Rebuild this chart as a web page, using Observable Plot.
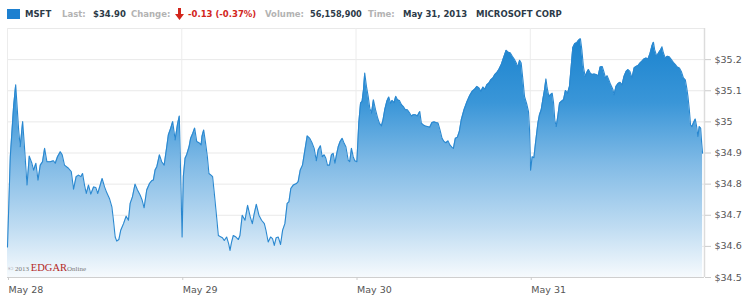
<!DOCTYPE html>
<html>
<head>
<meta charset="utf-8">
<script src="https://cdn.jsdelivr.net/npm/d3@7"></script>
<script src="https://cdn.jsdelivr.net/npm/@observablehq/plot@0.6"></script>
<style>
  html, body { margin: 0; padding: 0; background: #fff; }
  #wrap { position: relative; width: 750px; height: 305px; overflow: hidden; font-family: "DejaVu Sans", Verdana, sans-serif; }
  #hdr { position: absolute; left: 0; top: 0; width: 750px; height: 22px; }
  #hdr span { position: absolute; top: 9px; font-size: 8.5px; line-height: 10px; font-weight: bold; white-space: nowrap; }
  #hdr .k { color: #b3b3b3; }
  #hdr .v { color: #2c3a48; }
  #hdr .r { color: #d2261c; }
  #sq { position: absolute; left: 7px; top: 9px; width: 13px; height: 10px; background: #1d80d0; }
  #arrow { position: absolute; left: 175px; top: 8px; }
  #chart { position: absolute; left: 0; top: 22px; }
  #copy { position: absolute; left: 8px; top: 257px; font-family: "Liberation Serif", "DejaVu Serif", serif; white-space: nowrap; z-index: 2; }
  #copy .s { font-size: 7px; color: #7a7a7a; }
  #copy .e { font-size: 10.5px; color: #b3261e; }
</style>
</head>
<body>
<div id="wrap">
  <div id="hdr">
    <div id="sq"></div>
    <span class="v" style="left:25px">MSFT</span>
    <span class="k" style="left:62px">Last:</span>
    <span class="v" style="left:93px">$34.90</span>
    <span class="k" style="left:131px">Change:</span>
    <svg id="arrow" width="9" height="12" viewBox="0 0 9 12"><path d="M3 0 H6 V6 H9 L4.5 12 L0 6 H3 Z" fill="#d2261c"/></svg>
    <span class="r" style="left:188px">-0.13 (-0.37%)</span>
    <span class="k" style="left:265px">Volume:</span>
    <span class="v" style="left:310px; font-size:8.2px">56,158,900</span>
    <span class="k" style="left:368px">Time:</span>
    <span class="v" style="left:403px">May 31, 2013</span>
    <span class="v" style="left:476px">MICROSOFT CORP</span>
  </div>
  <div id="chart"></div>
  <div id="copy"><span class="s">© 2013 </span><span class="e">EDGAR</span><span class="s">Online</span></div>
</div>
<script>
// Trading days (x ticks) and their labels
const dayLabels = ["May 28", "May 29", "May 30", "May 31"];
const dayTicks = [0, 1, 2, 3];

// Y ticks and labels
const yTicks = [34.5, 34.6, 34.7, 34.8, 34.9, 35.0, 35.1, 35.2];
const yTickLabels = ["$34.5", "$34.6", "$34.7", "$34.8", "$34.9", "$35", "$35.1", "$35.2"];
const yGrid = [34.5, 34.6, 34.7, 34.8, 34.9, 35.0, 35.1, 35.2, 35.3];

// Intraday prices: [fraction of trading session, price]
const may28 = [
  [0.000,34.598],[0.016,34.888],[0.035,35.049],[0.047,35.119],[0.064,34.974],[0.073,34.920],[0.087,35.001],[0.096,34.931],
  [0.112,34.797],[0.125,34.890],[0.140,34.867],[0.150,34.845],[0.163,34.867],[0.175,34.813],[0.188,34.861],[0.201,34.872],
  [0.213,34.915],[0.226,34.872],[0.245,34.872],[0.264,34.875],[0.274,34.867],[0.287,34.888],[0.303,34.904],[0.314,34.894],
  [0.327,34.861],[0.350,34.851],[0.366,34.840],[0.379,34.784],[0.394,34.824],[0.408,34.829],[0.421,34.824],[0.431,34.834],
  [0.442,34.797],[0.452,34.770],[0.465,34.797],[0.478,34.768],[0.494,34.791],[0.507,34.789],[0.518,34.770],[0.532,34.797],
  [0.543,34.818],[0.557,34.791],[0.570,34.772],[0.585,34.754],[0.599,34.727],[0.608,34.684],[0.618,34.630],[0.627,34.617],
  [0.639,34.622],[0.650,34.652],[0.666,34.673],[0.681,34.697],[0.694,34.684],[0.704,34.738],[0.717,34.759],[0.732,34.800],
  [0.746,34.781],[0.761,34.765],[0.773,34.748],[0.784,34.724],[0.799,34.781],[0.815,34.802],[0.828,34.811],[0.837,34.813],
  [0.847,34.845],[0.857,34.856],[0.872,34.894],[0.885,34.872],[0.899,34.861],[0.914,34.920],[0.923,34.958],[0.937,34.980],
  [0.948,35.001],[0.962,34.942],[0.975,34.990],[0.986,35.019]
];
const may29 = [
  [0.002,34.630],[0.009,34.824],[0.019,34.883],[0.028,34.894],[0.042,34.920],[0.051,34.947],[0.063,34.963],[0.074,34.980],
  [0.086,34.937],[0.099,34.933],[0.111,34.926],[0.116,34.953],[0.126,34.974],[0.137,34.931],[0.147,34.888],[0.156,34.834],
  [0.168,34.829],[0.177,34.824],[0.187,34.770],[0.200,34.695],[0.210,34.635],[0.220,34.632],[0.233,34.628],[0.244,34.619],
  [0.258,34.630],[0.269,34.609],[0.277,34.587],[0.286,34.614],[0.296,34.635],[0.311,34.630],[0.325,34.622],[0.334,34.635],
  [0.347,34.700],[0.363,34.684],[0.378,34.732],[0.393,34.695],[0.405,34.673],[0.416,34.705],[0.428,34.735],[0.443,34.700],
  [0.458,34.684],[0.474,34.673],[0.483,34.652],[0.496,34.614],[0.510,34.630],[0.521,34.625],[0.531,34.603],[0.542,34.628],
  [0.554,34.630],[0.567,34.606],[0.579,34.652],[0.592,34.673],[0.605,34.738],[0.615,34.743],[0.626,34.786],[0.640,34.797],
  [0.659,34.802],[0.668,34.808],[0.680,34.845],[0.693,34.861],[0.707,34.910],[0.720,34.955],[0.735,34.947],[0.749,34.931],
  [0.760,34.915],[0.772,34.875],[0.783,34.910],[0.796,34.923],[0.806,34.888],[0.817,34.894],[0.827,34.883],[0.836,34.861],
  [0.848,34.861],[0.859,34.894],[0.869,34.899],[0.879,34.867],[0.888,34.894],[0.898,34.920],[0.909,34.937],[0.921,34.947],
  [0.932,34.931],[0.942,34.920],[0.955,34.877],[0.964,34.872],[0.974,34.915],[0.984,34.888],[0.993,34.875]
];
const may30 = [
  [0.005,34.872],[0.016,34.996],[0.026,35.060],[0.035,35.066],[0.043,35.103],[0.050,35.157],[0.060,35.114],[0.070,35.082],
  [0.079,35.044],[0.089,35.028],[0.100,35.071],[0.112,35.039],[0.123,35.015],[0.134,34.996],[0.146,34.987],[0.155,35.006],
  [0.165,35.039],[0.177,35.066],[0.188,35.080],[0.198,35.060],[0.207,35.069],[0.219,35.062],[0.228,35.082],[0.238,35.071],
  [0.249,35.069],[0.261,35.055],[0.272,35.049],[0.283,35.039],[0.295,35.039],[0.306,35.030],[0.318,35.019],[0.329,35.023],
  [0.341,35.023],[0.352,35.019],[0.366,35.033],[0.375,34.996],[0.387,34.990],[0.398,34.987],[0.410,34.985],[0.423,34.983],
  [0.436,34.998],[0.448,35.000],[0.459,34.998],[0.471,34.996],[0.482,34.974],[0.494,34.947],[0.505,34.937],[0.516,34.933],
  [0.528,34.939],[0.539,34.926],[0.551,34.918],[0.559,34.915],[0.570,34.947],[0.582,34.951],[0.593,34.969],[0.604,35.006],
  [0.620,35.039],[0.635,35.062],[0.652,35.084],[0.667,35.098],[0.681,35.105],[0.694,35.114],[0.706,35.109],[0.717,35.098],
  [0.729,35.112],[0.740,35.105],[0.751,35.119],[0.763,35.125],[0.774,35.135],[0.786,35.141],[0.797,35.152],[0.809,35.159],
  [0.820,35.168],[0.834,35.184],[0.843,35.200],[0.853,35.216],[0.862,35.230],[0.874,35.224],[0.885,35.222],[0.897,35.211],
  [0.908,35.202],[0.920,35.189],[0.929,35.176],[0.939,35.198],[0.948,35.189],[0.958,35.135],[0.967,35.082],[0.981,35.055],
  [0.990,35.033],[0.996,34.974]
];
const may31 = [
  [0.002,34.845],[0.011,34.888],[0.021,34.885],[0.030,34.931],[0.044,34.996],[0.053,35.023],[0.063,35.039],[0.072,35.071],
  [0.082,35.103],[0.090,35.138],[0.097,35.109],[0.107,35.082],[0.116,35.087],[0.126,35.092],[0.134,35.060],[0.141,35.006],
  [0.149,34.985],[0.158,35.017],[0.168,35.060],[0.179,35.066],[0.191,35.071],[0.202,35.101],[0.214,35.092],[0.225,35.114],
  [0.235,35.178],[0.244,35.238],[0.256,35.252],[0.267,35.254],[0.277,35.262],[0.288,35.267],[0.296,35.232],[0.305,35.178],
  [0.315,35.146],[0.325,35.159],[0.334,35.168],[0.344,35.157],[0.355,35.152],[0.367,35.154],[0.378,35.152],[0.390,35.148],
  [0.401,35.176],[0.413,35.178],[0.422,35.162],[0.432,35.141],[0.441,35.148],[0.451,35.135],[0.462,35.119],[0.474,35.105],
  [0.481,35.087],[0.492,35.114],[0.504,35.123],[0.516,35.127],[0.527,35.119],[0.538,35.146],[0.550,35.162],[0.561,35.168],
  [0.572,35.162],[0.584,35.141],[0.596,35.173],[0.607,35.178],[0.619,35.181],[0.630,35.189],[0.641,35.195],[0.653,35.202],
  [0.665,35.205],[0.676,35.202],[0.687,35.219],[0.699,35.245],[0.707,35.256],[0.714,35.232],[0.726,35.211],[0.737,35.222],
  [0.749,35.232],[0.756,35.241],[0.764,35.222],[0.775,35.205],[0.787,35.211],[0.798,35.209],[0.810,35.200],[0.821,35.191],
  [0.833,35.184],[0.844,35.176],[0.856,35.173],[0.867,35.162],[0.879,35.141],[0.890,35.135],[0.898,35.109],[0.905,35.082],
  [0.913,35.039],[0.920,34.990],[0.928,34.985],[0.936,34.996],[0.947,35.009],[0.955,34.985],[0.962,34.953],[0.970,34.985],
  [0.978,34.980],[0.984,34.931],[0.989,34.899]
];

const sessions = [may28, may29, may30, may31];
const data = sessions.flatMap((pts, day) => pts.map(([f, p]) => ({t: day + f, price: p})));
const yBase = yTicks[0];

const chart = Plot.plot({
  width: 750,
  height: 283,
  marginTop: 6,
  marginBottom: 28,
  marginLeft: 7,
  marginRight: 46,
  style: {fontFamily: "'DejaVu Sans', Verdana, sans-serif", fontSize: "9.5px", color: "#555", background: "transparent", overflow: "visible"},
  x: {domain: [0, 4], axis: null},
  y: {domain: [34.5, 35.3], axis: null},
  marks: [
    Plot.gridY(yGrid, {stroke: "#e9e9e9", strokeOpacity: 1}),
    Plot.gridX(dayTicks, {stroke: "#ececec", strokeOpacity: 1}),
    Plot.areaY(data, {x: "t", y1: yBase, y2: "price", fill: "url(#msftGrad)"}),
    Plot.lineY(data, {x: "t", y: "price", stroke: "#2a88d0", strokeWidth: 1.1}),
    Plot.ruleY([yBase], {stroke: "#cfcfcf"}),
    Plot.ruleX([4], {stroke: "#dcdcdc", strokeWidth: 1.5}),
    Plot.axisY(yTicks, {anchor: "right", label: null, tickSize: 6, tickPadding: 4, stroke: "#cccccc", fill: "#555", tickFormat: (d, i) => yTickLabels[i]}),
    Plot.axisX(dayTicks, {anchor: "bottom", label: null, tickSize: 3, tickPadding: 6, stroke: "#cccccc", fill: "#555", textAnchor: "start", dx: 1, tickFormat: (d, i) => dayLabels[i]})
  ]
});

const ys = chart.scale("y");
const gy1 = ys.apply(35.3), gy2 = ys.apply(34.5);
const defs = d3.select(chart).insert("defs", ":first-child");
const grad = defs.append("linearGradient")
  .attr("id", "msftGrad").attr("gradientUnits", "userSpaceOnUse")
  .attr("x1", 0).attr("x2", 0).attr("y1", gy1).attr("y2", gy2);
[[0, "#1580cd"], [0.3, "#3a96d8"], [0.55, "#82bbe6"], [0.8, "#bfdcf2"], [1, "#f6fafd"]].forEach(([o, c]) =>
  grad.append("stop").attr("offset", o).attr("stop-color", c));

document.getElementById("chart").appendChild(chart);
</script>
</body>
</html>
